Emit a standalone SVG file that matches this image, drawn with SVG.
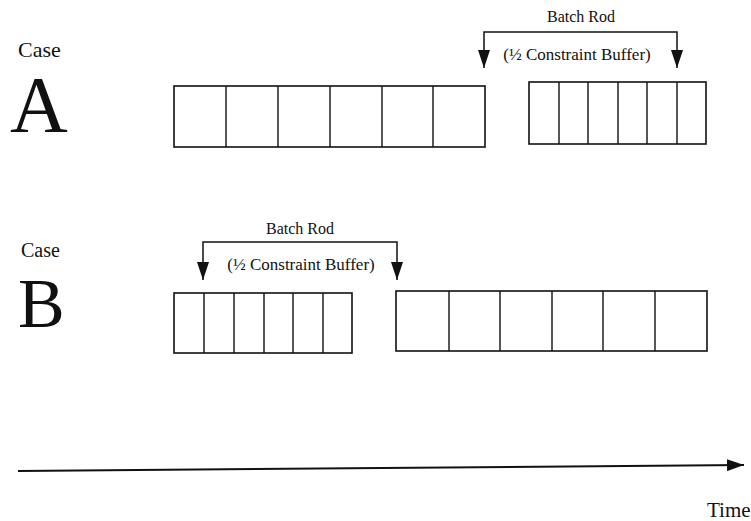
<svg xmlns="http://www.w3.org/2000/svg" width="751" height="521" viewBox="0 0 751 521">
  <style>
    .lbl { font-family: "Liberation Serif", "Times New Roman", serif; fill: #111; }
    .box { fill: #fff; stroke: #111; stroke-width: 1.6; }
    .div { stroke: #111; stroke-width: 1.4; }
    .conn { fill: none; stroke: #111; stroke-width: 1.5; }
    .axis { fill: none; stroke: #111; stroke-width: 2; }
  </style>
  <defs>
    <marker id="head" markerUnits="userSpaceOnUse" markerWidth="18" markerHeight="12" refX="18" refY="6" orient="auto-start-reverse">
      <path d="M0,0 L18,6 L0,12 z" fill="#111"/>
    </marker>
    <marker id="axis-head" markerUnits="userSpaceOnUse" markerWidth="17" markerHeight="12" refX="17" refY="6" orient="auto">
      <path d="M0,0 L17,6 L0,12 z" fill="#111"/>
    </marker>
  </defs>

  <rect width="751" height="521" fill="#fff"/>

  <!-- Case A -->
  <g id="caseA-label">
    <text class="lbl" x="18" y="57" font-size="22">Case</text>
    <text class="lbl" x="10" y="132" font-size="80">A</text>
  </g>
  <g id="caseA-batch-large">
    <rect class="box" x="174" y="86" width="311" height="61"/>
    <path class="div" d="M226,86V147M278,86V147M330,86V147M382,86V147M433,86V147"/>
  </g>
  <g id="caseA-batch-small">
    <rect class="box" x="529" y="82" width="177" height="62"/>
    <path class="div" d="M559,82V144M588,82V144M618,82V144M647,82V144M677,82V144"/>
  </g>
  <g id="caseA-rod-label">
    <text class="lbl" x="581" y="22" font-size="16" text-anchor="middle">Batch Rod</text>
    <text class="lbl" x="577" y="60" font-size="17" text-anchor="middle">(½ Constraint Buffer)</text>
  </g>

  <!-- Case B -->
  <g id="caseB-label">
    <text class="lbl" x="21" y="257" font-size="20">Case</text>
    <text class="lbl" x="18" y="327" font-size="70">B</text>
  </g>
  <g id="caseB-batch-small">
    <rect class="box" x="174" y="293" width="178" height="60"/>
    <path class="div" d="M204,293V353M234,293V353M264,293V353M293,293V353M323,293V353"/>
  </g>
  <g id="caseB-batch-large">
    <rect class="box" x="396" y="291" width="311" height="60"/>
    <path class="div" d="M449,291V351M500,291V351M552,291V351M603,291V351M655,291V351"/>
  </g>
  <g id="caseB-rod-label">
    <text class="lbl" x="300" y="234" font-size="16" text-anchor="middle">Batch Rod</text>
    <text class="lbl" x="301" y="270" font-size="17" text-anchor="middle">(½ Constraint Buffer)</text>
  </g>

  <g id="time-label">
    <text class="lbl" x="707" y="517" font-size="21">Time</text>
  </g>

  <!-- Connectors: batch-rod brackets and time axis -->
  <g id="connectors">
    <path class="conn" d="M484,68V32H677V68" marker-start="url(#head)" marker-end="url(#head)"/>
    <path class="conn" d="M203,280V242H397V280" marker-start="url(#head)" marker-end="url(#head)"/>
    <path class="axis" d="M18,471L744,465" marker-end="url(#axis-head)"/>
  </g>
</svg>
